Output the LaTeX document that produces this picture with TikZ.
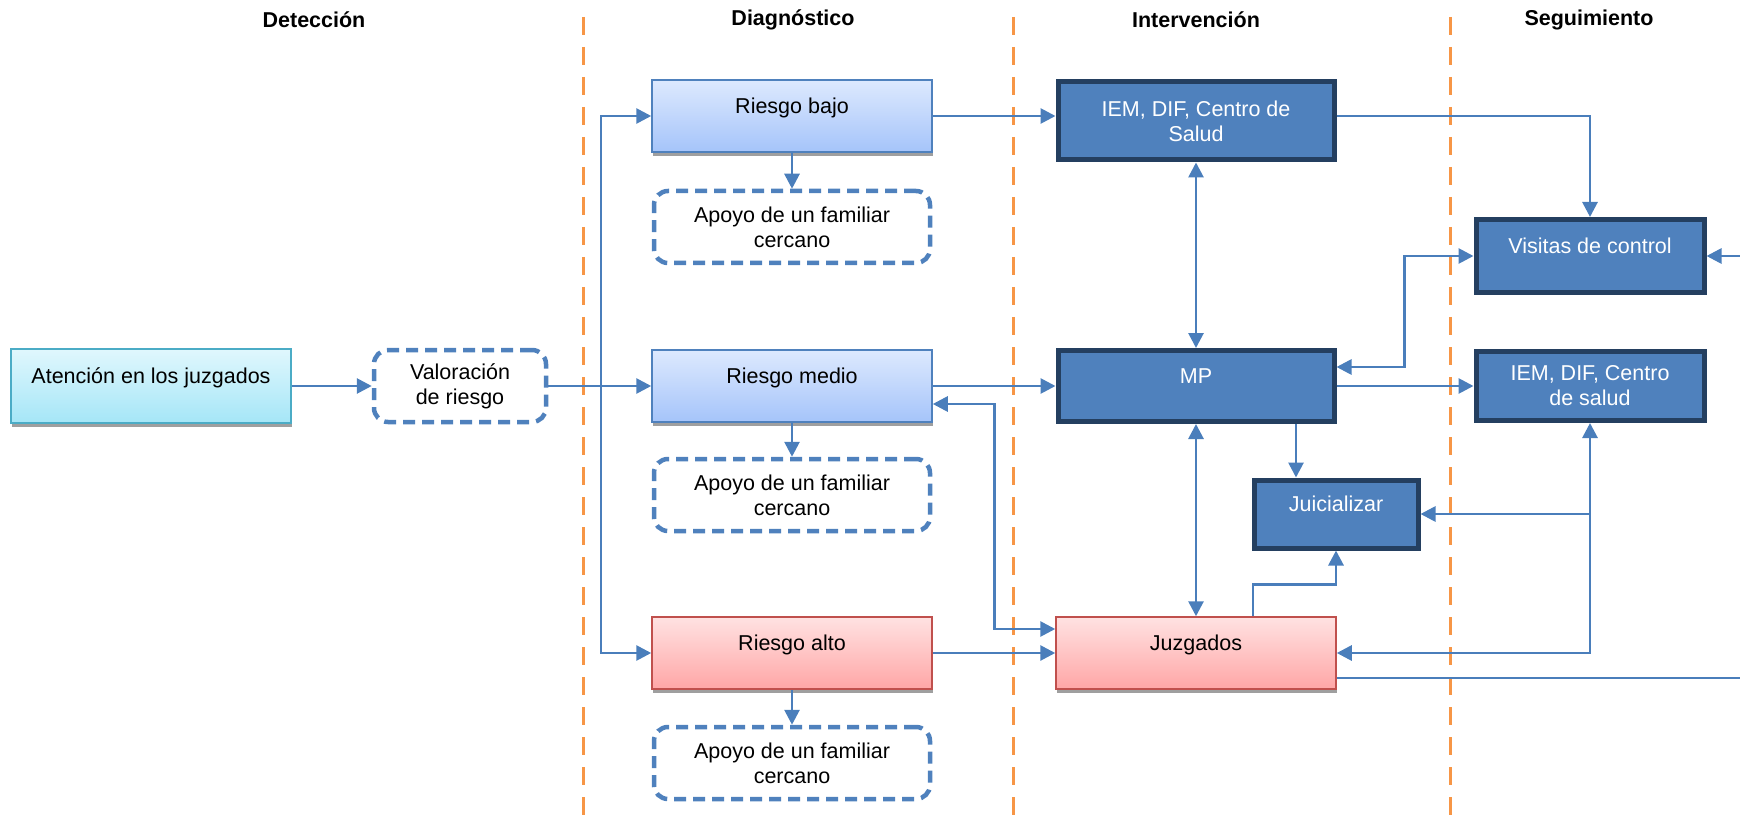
\documentclass[tikz,border=0pt]{standalone}
\usepackage{fontspec}
\setmainfont{Liberation Sans}
\usetikzlibrary{arrows.meta,shadows}

\definecolor{lineblue}{HTML}{4A7EBB}
\definecolor{boxblue}{HTML}{4F81BD}
\definecolor{navyedge}{HTML}{243F60}
\definecolor{orangeline}{HTML}{F79646}
\definecolor{tealedge}{HTML}{4BACC6}
\definecolor{cyantop}{HTML}{E0F7FD}
\definecolor{cyanbot}{HTML}{A5E6F7}
\definecolor{bluetop}{HTML}{DDE9FE}
\definecolor{bluebot}{HTML}{A5C4FA}
\definecolor{redtop}{HTML}{FFE2E2}
\definecolor{redbot}{HTML}{FFA6A6}
\definecolor{redge}{HTML}{C0504D}

\begin{document}
\begin{tikzpicture}[x=1pt, y=-1pt,
    font=\fontsize{21.5}{25}\selectfont,
    >={Triangle[length=15pt,width=15pt]},
    conn/.style={draw=lineblue, line width=2.8pt, ->},
    dconn/.style={draw=lineblue, line width=2.8pt, <->},
    divider/.style={draw=orangeline, line width=3pt, dash pattern=on 18pt off 12pt},
    header/.style={font=\fontsize{21.5}{25}\selectfont\bfseries},
    topline/.style={text height=0.7em, text depth=1.25em},
    boxshadow/.style={general shadow={fill=gray!75, shadow xshift=1pt, shadow yshift=-4pt}},
    lightbox/.style={draw=tealedge, line width=1.5pt, top color=cyantop, bottom color=cyanbot,
        boxshadow, minimum width=280pt, minimum height=74pt, topline},
    bluerisk/.style={draw=boxblue, line width=1.5pt, top color=bluetop, bottom color=bluebot,
        boxshadow, minimum width=280pt, minimum height=72pt, topline},
    redrisk/.style={draw=redge, line width=1.5pt, top color=redtop, bottom color=redbot,
        boxshadow, minimum width=280pt, minimum height=72pt, topline},
    apoyo/.style={draw=boxblue, line width=4.5pt, dash pattern=on 12pt off 7pt, rounded corners=14pt,
        fill=white, minimum width=276pt, minimum height=72pt, align=center},
    darkbox/.style={draw=navyedge, line width=5pt, fill=boxblue, text=white, align=center,
        minimum width=276pt, minimum height=71pt}
]
  \useasboundingbox (0,0) rectangle (1740,818);

  % phase separators
  \foreach \x in {583,1013,1450}
    \draw[divider] (\x,17) -- (\x,818);

  \node[header] (hdet) at (314,20) {Detección};
  \node[header] (hdiag) at (793,20) {Diagnóstico};
  \node[header] (hint) at (1196,20) {Intervención};
  \node[header] (hseg) at (1589,20) {Seguimiento};

  % detection
  \node[lightbox] (atencion) at (151,386) {Atención en los juzgados};
  \node[apoyo, minimum width=172pt] (valoracion) at (460,386) {Valoración\\de riesgo};

  % diagnosis
  \node[bluerisk] (bajo) at (792,116) {Riesgo bajo};
  \node[apoyo] (apoyo1) at (792,227) {Apoyo de un familiar\\cercano};
  \node[bluerisk] (medio) at (792,386) {Riesgo medio};
  \node[apoyo] (apoyo2) at (792,495) {Apoyo de un familiar\\cercano};
  \node[redrisk] (alto) at (792,653) {Riesgo alto};
  \node[apoyo] (apoyo3) at (792,763) {Apoyo de un familiar\\cercano};

  % intervention
  \node[darkbox, minimum height=78pt] (iem) at (1196,121) {IEM, DIF, Centro de\\Salud};
  \node[darkbox, topline] (mp) at (1196,386) {MP};
  \node[darkbox, topline, minimum width=164pt, minimum height=68pt] (juic) at (1336,514) {Juicializar};
  \node[redrisk] (juzgados) at (1196,653) {Juzgados};

  % follow-up
  \node[darkbox, topline, minimum width=228pt, minimum height=73pt] (visitas) at (1590,256) {Visitas de control};
  \node[darkbox, minimum width=228pt, minimum height=69pt] (iemb) at (1590,386) {IEM, DIF, Centro\\de salud};

  \coordinate (split) at (601,386);
  \coordinate (rim) at (1770,678);
  \coordinate (juictop) at ([xshift=-40pt]juic.north);

  \draw[conn] (atencion) -- (valoracion);
  \draw[conn] (valoracion) -- (medio);
  \draw[conn] (split) |- (bajo);
  \draw[conn] (split) |- (alto);
  \foreach \a/\b in {bajo/apoyo1, medio/apoyo2, alto/apoyo3}
    \draw[conn] (\a) -- (\b);

  \draw[conn] (bajo) -- (bajo -| iem.west);
  \draw[conn] (medio) -- (mp);
  \draw[conn] (alto) -- (juzgados);
  \draw[dconn] ([yshift=-18pt]medio.east) -- ++(62,0) |- ([yshift=24pt]juzgados.west);

  \draw[dconn] (iem) -- (mp);
  \draw[dconn] (mp) -- (juzgados);
  \draw[conn] (juictop |- mp.south) -- (juictop);
  \draw[conn] ([xshift=57pt]juzgados.north) -- ++(0,-32) -| (juic.south);

  \draw[conn] ([yshift=5pt]iem.east) -| (visitas.north);
  \draw[dconn] (visitas.west) -- ++(-69,0) |- ([yshift=19pt]mp.east);
  \draw[conn] (mp) -- (iemb);
  \draw[dconn] (iemb) |- (juzgados);
  \draw[conn] (iemb.south |- juic.east) -- (juic.east);
  \draw[conn] ([yshift=-25pt]juzgados.east) -- (rim) |- (visitas.east);
\end{tikzpicture}
\end{document}
